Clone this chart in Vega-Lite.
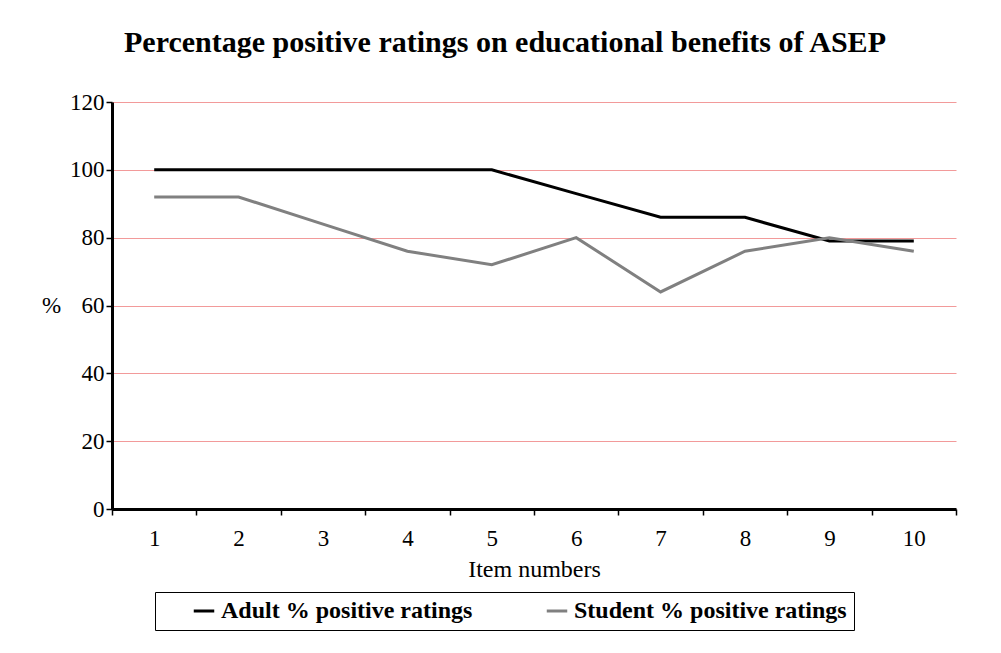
{
  "$schema": "https://vega.github.io/schema/vega-lite/v6.json",
  "autosize": {"type": "none"},
  "width": 844,
  "height": 407,
  "padding": {"left": 112, "top": 102, "right": 45, "bottom": 144},
  "background": "white",
  "title": {
    "text": "Percentage positive ratings on educational benefits of ASEP",
    "font": "Liberation Serif",
    "fontSize": 30,
    "fontWeight": "bold",
    "color": "black",
    "anchor": "middle",
    "offset": 33,
    "dx": -29
  },
  "data": {
    "values": [
      {"item": "1", "series": "Adult % positive ratings", "value": 100},
      {"item": "2", "series": "Adult % positive ratings", "value": 100},
      {"item": "3", "series": "Adult % positive ratings", "value": 100},
      {"item": "4", "series": "Adult % positive ratings", "value": 100},
      {"item": "5", "series": "Adult % positive ratings", "value": 100},
      {"item": "6", "series": "Adult % positive ratings", "value": 93},
      {"item": "7", "series": "Adult % positive ratings", "value": 86},
      {"item": "8", "series": "Adult % positive ratings", "value": 86},
      {"item": "9", "series": "Adult % positive ratings", "value": 79},
      {"item": "10", "series": "Adult % positive ratings", "value": 79},
      {"item": "1", "series": "Student % positive ratings", "value": 92},
      {"item": "2", "series": "Student % positive ratings", "value": 92},
      {"item": "3", "series": "Student % positive ratings", "value": 84},
      {"item": "4", "series": "Student % positive ratings", "value": 76},
      {"item": "5", "series": "Student % positive ratings", "value": 72},
      {"item": "6", "series": "Student % positive ratings", "value": 80},
      {"item": "7", "series": "Student % positive ratings", "value": 64},
      {"item": "8", "series": "Student % positive ratings", "value": 76},
      {"item": "9", "series": "Student % positive ratings", "value": 80},
      {"item": "10", "series": "Student % positive ratings", "value": 76}
    ]
  },
  "mark": {"type": "line", "strokeWidth": 3},
  "encoding": {
    "x": {
      "field": "item",
      "type": "ordinal",
      "sort": ["1","2","3","4","5","6","7","8","9","10"],
      "scale": {"paddingInner": 0, "paddingOuter": 0},
      "axis": {
        "title": "Item numbers",
        "labelAngle": 0,
        "tickBand": "extent",
        "tickSize": 6,
        "tickColor": "black",
        "tickWidth": 1.5,
        "domainColor": "black",
        "domainWidth": 3,
        "labelFont": "Liberation Serif",
        "labelFontSize": 23,
        "labelColor": "black",
        "labelPadding": 12,
        "titleFont": "Liberation Serif",
        "titleFontSize": 24,
        "titleFontWeight": "normal",
        "titleColor": "black",
        "titlePadding": 7,
        "grid": false
      }
    },
    "y": {
      "field": "value",
      "type": "quantitative",
      "scale": {"domain": [0, 120], "nice": false},
      "axis": {
        "values": [0, 20, 40, 60, 80, 100, 120],
        "title": "%",
        "titleAngle": 0,
        "titleX": -61,
        "titleY": 203,
        "titleAlign": "center",
        "titleBaseline": "middle",
        "titleFont": "Liberation Serif",
        "titleFontSize": 23,
        "titleFontWeight": "normal",
        "titleColor": "black",
        "tickSize": 6,
        "tickColor": "black",
        "tickWidth": 1.5,
        "domainColor": "black",
        "domainWidth": 3,
        "labelFont": "Liberation Serif",
        "labelFontSize": 23,
        "labelColor": "black",
        "labelPadding": 2,
        "grid": true,
        "gridColor": "#f29a9a",
        "gridWidth": 1
      }
    },
    "color": {
      "field": "series",
      "type": "nominal",
      "scale": {
        "domain": ["Adult % positive ratings", "Student % positive ratings"],
        "range": ["black", "#808080"]
      },
      "legend": {
        "title": null,
        "orient": "none",
        "direction": "horizontal",
        "legendX": 43,
        "legendY": 490,
        "strokeColor": "black",
        "padding": 7,
        "symbolType": "stroke",
        "symbolSize": 420,
        "symbolStrokeWidth": 3,
        "symbolOffset": 30,
        "labelFont": "Liberation Serif",
        "labelFontSize": 24,
        "labelFontWeight": "bold",
        "labelColor": "black",
        "labelOffset": 5,
        "columnPadding": 42,
        "labelLimit": 400
      }
    }
  },
  "config": {"view": {"stroke": null}}
}
